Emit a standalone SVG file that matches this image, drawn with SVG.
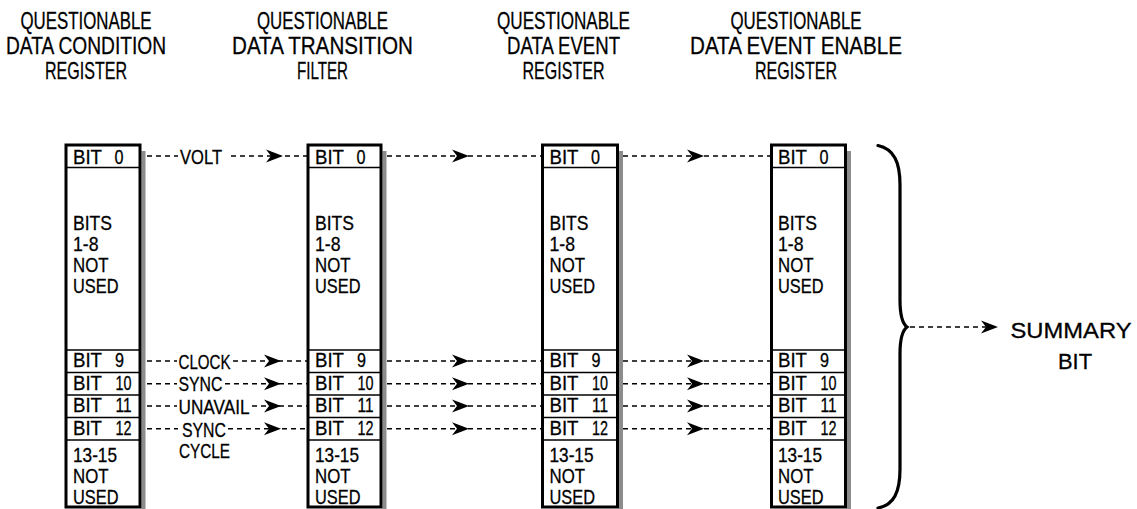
<svg xmlns="http://www.w3.org/2000/svg" xmlns:xlink="http://www.w3.org/1999/xlink" width="1137" height="509" viewBox="0 0 1137 509">
<style>
text{font-family:"Liberation Sans",Arial,sans-serif;fill:#000;stroke:#000;stroke-width:0.3}
.h{font-size:24.5px;text-anchor:middle}
.b{font-size:21px}
.l{font-size:21px}
.s{font-size:22.5px;text-anchor:middle}
.box{fill:#fff;stroke:#000;stroke-width:3}
.sep{stroke:#000;stroke-width:1.5}
.sh{fill:#8c8c8c}
.d{stroke:#000;stroke-width:1.4;stroke-dasharray:5 4;fill:none}
.brace{fill:none;stroke:#000;stroke-width:3.2;stroke-linecap:round}
</style>
<defs>
<path id="ah" d="M0,0 L-17,-6.5 L-12,0 L-17,6.5 Z" fill="#000"/>
</defs>
<rect width="1137" height="509" fill="#fff"/>

<g id="reg-condition">
<text class="h"><tspan x="86" y="29" textLength="131" lengthAdjust="spacingAndGlyphs">QUESTIONABLE</tspan><tspan x="86" y="54" textLength="160" lengthAdjust="spacingAndGlyphs">DATA CONDITION</tspan><tspan x="86" y="79" textLength="82" lengthAdjust="spacingAndGlyphs">REGISTER</tspan></text>
<rect class="sh" x="141.5" y="151" width="4" height="358"/>
<rect class="box" x="66" y="145" width="74" height="362"/>
<line class="sep" x1="66" y1="167.5" x2="140" y2="167.5"/>
<line class="sep" x1="66" y1="350" x2="140" y2="350"/>
<line class="sep" x1="66" y1="372.5" x2="140" y2="372.5"/>
<line class="sep" x1="66" y1="395" x2="140" y2="395"/>
<line class="sep" x1="66" y1="417.5" x2="140" y2="417.5"/>
<line class="sep" x1="66" y1="440" x2="140" y2="440"/>
<text class="b" x="73" y="163.5" textLength="29" lengthAdjust="spacingAndGlyphs">BIT</text><text class="b" x="114.5" y="163.5" textLength="9" lengthAdjust="spacingAndGlyphs">0</text>
<text class="b"><tspan x="73" y="229.5" textLength="39" lengthAdjust="spacingAndGlyphs">BITS</tspan><tspan x="73" y="250.5" textLength="25.5" lengthAdjust="spacingAndGlyphs">1-8</tspan><tspan x="73" y="271.5" textLength="35.5" lengthAdjust="spacingAndGlyphs">NOT</tspan><tspan x="73" y="292.5" textLength="45.5" lengthAdjust="spacingAndGlyphs">USED</tspan></text>
<text class="b" x="73" y="367" textLength="29" lengthAdjust="spacingAndGlyphs">BIT</text><text class="b" x="115" y="367" textLength="9" lengthAdjust="spacingAndGlyphs">9</text>
<text class="b" x="73" y="389.5" textLength="29" lengthAdjust="spacingAndGlyphs">BIT</text><text class="b" x="115.5" y="389.5" textLength="16" lengthAdjust="spacingAndGlyphs">10</text>
<text class="b" x="73" y="412" textLength="29" lengthAdjust="spacingAndGlyphs">BIT</text><text class="b" x="115.5" y="412" textLength="16" lengthAdjust="spacingAndGlyphs">11</text>
<text class="b" x="73" y="434.5" textLength="29" lengthAdjust="spacingAndGlyphs">BIT</text><text class="b" x="115.5" y="434.5" textLength="16" lengthAdjust="spacingAndGlyphs">12</text>
<text class="b"><tspan x="73" y="461.5" textLength="44" lengthAdjust="spacingAndGlyphs">13-15</tspan><tspan x="73" y="482.5" textLength="35.5" lengthAdjust="spacingAndGlyphs">NOT</tspan><tspan x="73" y="503.5" textLength="45.5" lengthAdjust="spacingAndGlyphs">USED</tspan></text>
</g>

<g id="reg-transition">
<text class="h"><tspan x="322.5" y="29" textLength="131" lengthAdjust="spacingAndGlyphs">QUESTIONABLE</tspan><tspan x="322.5" y="54" textLength="181" lengthAdjust="spacingAndGlyphs">DATA TRANSITION</tspan><tspan x="322.5" y="79" textLength="51" lengthAdjust="spacingAndGlyphs">FILTER</tspan></text>
<rect class="sh" x="382.5" y="151" width="4" height="358"/>
<rect class="box" x="308" y="145" width="73" height="362"/>
<line class="sep" x1="308" y1="167.5" x2="381" y2="167.5"/>
<line class="sep" x1="308" y1="350" x2="381" y2="350"/>
<line class="sep" x1="308" y1="372.5" x2="381" y2="372.5"/>
<line class="sep" x1="308" y1="395" x2="381" y2="395"/>
<line class="sep" x1="308" y1="417.5" x2="381" y2="417.5"/>
<line class="sep" x1="308" y1="440" x2="381" y2="440"/>
<text class="b" x="315" y="163.5" textLength="29" lengthAdjust="spacingAndGlyphs">BIT</text><text class="b" x="356.5" y="163.5" textLength="9" lengthAdjust="spacingAndGlyphs">0</text>
<text class="b"><tspan x="315" y="229.5" textLength="39" lengthAdjust="spacingAndGlyphs">BITS</tspan><tspan x="315" y="250.5" textLength="25.5" lengthAdjust="spacingAndGlyphs">1-8</tspan><tspan x="315" y="271.5" textLength="35.5" lengthAdjust="spacingAndGlyphs">NOT</tspan><tspan x="315" y="292.5" textLength="45.5" lengthAdjust="spacingAndGlyphs">USED</tspan></text>
<text class="b" x="315" y="367" textLength="29" lengthAdjust="spacingAndGlyphs">BIT</text><text class="b" x="357" y="367" textLength="9" lengthAdjust="spacingAndGlyphs">9</text>
<text class="b" x="315" y="389.5" textLength="29" lengthAdjust="spacingAndGlyphs">BIT</text><text class="b" x="357.5" y="389.5" textLength="16" lengthAdjust="spacingAndGlyphs">10</text>
<text class="b" x="315" y="412" textLength="29" lengthAdjust="spacingAndGlyphs">BIT</text><text class="b" x="357.5" y="412" textLength="16" lengthAdjust="spacingAndGlyphs">11</text>
<text class="b" x="315" y="434.5" textLength="29" lengthAdjust="spacingAndGlyphs">BIT</text><text class="b" x="357.5" y="434.5" textLength="16" lengthAdjust="spacingAndGlyphs">12</text>
<text class="b"><tspan x="315" y="461.5" textLength="44" lengthAdjust="spacingAndGlyphs">13-15</tspan><tspan x="315" y="482.5" textLength="35.5" lengthAdjust="spacingAndGlyphs">NOT</tspan><tspan x="315" y="503.5" textLength="45.5" lengthAdjust="spacingAndGlyphs">USED</tspan></text>
</g>

<g id="reg-event">
<text class="h"><tspan x="563.5" y="29" textLength="133" lengthAdjust="spacingAndGlyphs">QUESTIONABLE</tspan><tspan x="563.5" y="54" textLength="113" lengthAdjust="spacingAndGlyphs">DATA EVENT</tspan><tspan x="563.5" y="79" textLength="82" lengthAdjust="spacingAndGlyphs">REGISTER</tspan></text>
<rect class="sh" x="619" y="151" width="4" height="358"/>
<rect class="box" x="542.5" y="145" width="75" height="362"/>
<line class="sep" x1="542.5" y1="167.5" x2="617.5" y2="167.5"/>
<line class="sep" x1="542.5" y1="350" x2="617.5" y2="350"/>
<line class="sep" x1="542.5" y1="372.5" x2="617.5" y2="372.5"/>
<line class="sep" x1="542.5" y1="395" x2="617.5" y2="395"/>
<line class="sep" x1="542.5" y1="417.5" x2="617.5" y2="417.5"/>
<line class="sep" x1="542.5" y1="440" x2="617.5" y2="440"/>
<text class="b" x="549.5" y="163.5" textLength="29" lengthAdjust="spacingAndGlyphs">BIT</text><text class="b" x="591" y="163.5" textLength="9" lengthAdjust="spacingAndGlyphs">0</text>
<text class="b"><tspan x="549.5" y="229.5" textLength="39" lengthAdjust="spacingAndGlyphs">BITS</tspan><tspan x="549.5" y="250.5" textLength="25.5" lengthAdjust="spacingAndGlyphs">1-8</tspan><tspan x="549.5" y="271.5" textLength="35.5" lengthAdjust="spacingAndGlyphs">NOT</tspan><tspan x="549.5" y="292.5" textLength="45.5" lengthAdjust="spacingAndGlyphs">USED</tspan></text>
<text class="b" x="549.5" y="367" textLength="29" lengthAdjust="spacingAndGlyphs">BIT</text><text class="b" x="591.5" y="367" textLength="9" lengthAdjust="spacingAndGlyphs">9</text>
<text class="b" x="549.5" y="389.5" textLength="29" lengthAdjust="spacingAndGlyphs">BIT</text><text class="b" x="592" y="389.5" textLength="16" lengthAdjust="spacingAndGlyphs">10</text>
<text class="b" x="549.5" y="412" textLength="29" lengthAdjust="spacingAndGlyphs">BIT</text><text class="b" x="592" y="412" textLength="16" lengthAdjust="spacingAndGlyphs">11</text>
<text class="b" x="549.5" y="434.5" textLength="29" lengthAdjust="spacingAndGlyphs">BIT</text><text class="b" x="592" y="434.5" textLength="16" lengthAdjust="spacingAndGlyphs">12</text>
<text class="b"><tspan x="549.5" y="461.5" textLength="44" lengthAdjust="spacingAndGlyphs">13-15</tspan><tspan x="549.5" y="482.5" textLength="35.5" lengthAdjust="spacingAndGlyphs">NOT</tspan><tspan x="549.5" y="503.5" textLength="45.5" lengthAdjust="spacingAndGlyphs">USED</tspan></text>
</g>

<g id="reg-enable">
<text class="h"><tspan x="796" y="29" textLength="131" lengthAdjust="spacingAndGlyphs">QUESTIONABLE</tspan><tspan x="796" y="54" textLength="212" lengthAdjust="spacingAndGlyphs">DATA EVENT ENABLE</tspan><tspan x="796" y="79" textLength="82" lengthAdjust="spacingAndGlyphs">REGISTER</tspan></text>
<rect class="sh" x="847" y="151" width="4" height="358"/>
<rect class="box" x="771.5" y="145" width="74" height="362"/>
<line class="sep" x1="771.5" y1="167.5" x2="845.5" y2="167.5"/>
<line class="sep" x1="771.5" y1="350" x2="845.5" y2="350"/>
<line class="sep" x1="771.5" y1="372.5" x2="845.5" y2="372.5"/>
<line class="sep" x1="771.5" y1="395" x2="845.5" y2="395"/>
<line class="sep" x1="771.5" y1="417.5" x2="845.5" y2="417.5"/>
<line class="sep" x1="771.5" y1="440" x2="845.5" y2="440"/>
<text class="b" x="778" y="163.5" textLength="29" lengthAdjust="spacingAndGlyphs">BIT</text><text class="b" x="819.5" y="163.5" textLength="9" lengthAdjust="spacingAndGlyphs">0</text>
<text class="b"><tspan x="778" y="229.5" textLength="39" lengthAdjust="spacingAndGlyphs">BITS</tspan><tspan x="778" y="250.5" textLength="25.5" lengthAdjust="spacingAndGlyphs">1-8</tspan><tspan x="778" y="271.5" textLength="35.5" lengthAdjust="spacingAndGlyphs">NOT</tspan><tspan x="778" y="292.5" textLength="45.5" lengthAdjust="spacingAndGlyphs">USED</tspan></text>
<text class="b" x="778" y="367" textLength="29" lengthAdjust="spacingAndGlyphs">BIT</text><text class="b" x="820" y="367" textLength="9" lengthAdjust="spacingAndGlyphs">9</text>
<text class="b" x="778" y="389.5" textLength="29" lengthAdjust="spacingAndGlyphs">BIT</text><text class="b" x="820.5" y="389.5" textLength="16" lengthAdjust="spacingAndGlyphs">10</text>
<text class="b" x="778" y="412" textLength="29" lengthAdjust="spacingAndGlyphs">BIT</text><text class="b" x="820.5" y="412" textLength="16" lengthAdjust="spacingAndGlyphs">11</text>
<text class="b" x="778" y="434.5" textLength="29" lengthAdjust="spacingAndGlyphs">BIT</text><text class="b" x="820.5" y="434.5" textLength="16" lengthAdjust="spacingAndGlyphs">12</text>
<text class="b"><tspan x="778" y="461.5" textLength="44" lengthAdjust="spacingAndGlyphs">13-15</tspan><tspan x="778" y="482.5" textLength="35.5" lengthAdjust="spacingAndGlyphs">NOT</tspan><tspan x="778" y="503.5" textLength="45.5" lengthAdjust="spacingAndGlyphs">USED</tspan></text>
</g>

<g id="connectors">
<!-- condition -> transition -->
<path class="d" d="M147,156 H178 M231,156 H307"/>
<use xlink:href="#ah" href="#ah" x="283" y="156"/>
<path class="d" d="M147,361 H177 M233,361 H307"/>
<use xlink:href="#ah" href="#ah" x="281" y="361"/>
<path class="d" d="M147,383.7 H177 M225,383.7 H307"/>
<use xlink:href="#ah" href="#ah" x="281" y="383.7"/>
<path class="d" d="M147,406 H177 M252,406 H307"/>
<use xlink:href="#ah" href="#ah" x="281" y="406"/>
<path class="d" d="M147,428.7 H178 M228,428.7 H307"/>
<use xlink:href="#ah" href="#ah" x="281" y="428.7"/>
<!-- transition -> event -->
<path class="d" d="M387,156 H542"/>
<use xlink:href="#ah" href="#ah" x="469" y="156"/>
<path class="d" d="M387,361 H542"/>
<use xlink:href="#ah" href="#ah" x="469" y="361"/>
<path class="d" d="M387,383.7 H542"/>
<use xlink:href="#ah" href="#ah" x="469" y="383.7"/>
<path class="d" d="M387,406 H542"/>
<use xlink:href="#ah" href="#ah" x="469" y="406"/>
<path class="d" d="M387,428.7 H542"/>
<use xlink:href="#ah" href="#ah" x="469" y="428.7"/>
<!-- event -> enable -->
<path class="d" d="M623,156 H771"/>
<use xlink:href="#ah" href="#ah" x="704" y="156"/>
<path class="d" d="M623,361 H771"/>
<use xlink:href="#ah" href="#ah" x="704" y="361"/>
<path class="d" d="M623,383.7 H771"/>
<use xlink:href="#ah" href="#ah" x="704" y="383.7"/>
<path class="d" d="M623,406 H771"/>
<use xlink:href="#ah" href="#ah" x="704" y="406"/>
<path class="d" d="M623,428.7 H771"/>
<use xlink:href="#ah" href="#ah" x="704" y="428.7"/>
<!-- brace -> summary -->
<path class="d" d="M910,327 H990"/>
<use xlink:href="#ah" href="#ah" x="998" y="327"/>
<!-- labels -->
<text class="l" x="180" y="164" textLength="42" lengthAdjust="spacingAndGlyphs">VOLT</text>
<text class="l"><tspan x="178.5" y="368.5" textLength="52" lengthAdjust="spacingAndGlyphs">CLOCK</tspan><tspan x="178.5" y="391.2" textLength="44" lengthAdjust="spacingAndGlyphs">SYNC</tspan><tspan x="178.5" y="413.5" textLength="71" lengthAdjust="spacingAndGlyphs">UNAVAIL</tspan><tspan x="182" y="436.5" textLength="44" lengthAdjust="spacingAndGlyphs">SYNC</tspan><tspan x="179" y="458" textLength="51" lengthAdjust="spacingAndGlyphs">CYCLE</tspan></text>
</g>

<g id="summary">
<path class="brace" d="M878,145.5 C894,149 900,162 900,185 L900,300 C900,317 903,324 907,327 C903,330 900,337 900,354 L900,469 C900,492 894,505 878,508"/>
<text class="s"><tspan x="1071" y="338" textLength="121" lengthAdjust="spacingAndGlyphs">SUMMARY</tspan><tspan x="1075" y="369" textLength="34" lengthAdjust="spacingAndGlyphs">BIT</tspan></text>
</g>
</svg>
